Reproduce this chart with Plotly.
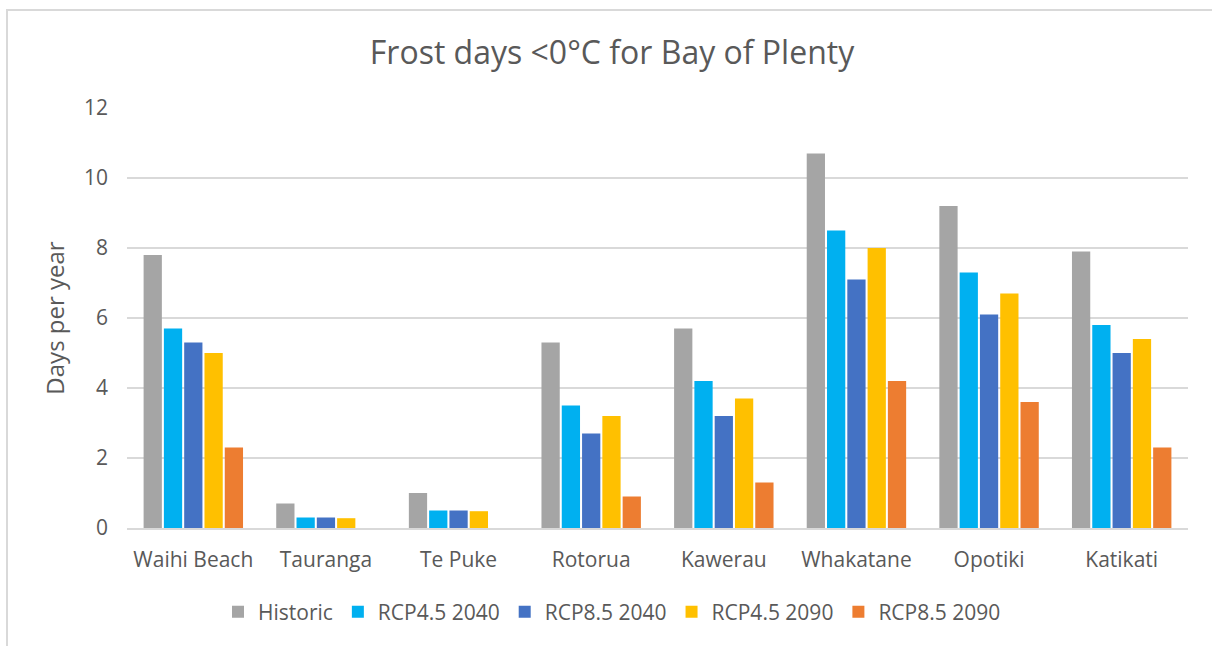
import plotly.graph_objects as go

# Frost days below 0°C per year, Bay of Plenty towns
towns = ["Waihi Beach", "Tauranga", "Te Puke", "Rotorua", "Kawerau",
         "Whakatane", "Opotiki", "Katikati"]

historic = [7.8, 0.7, 1.0, 5.3, 5.7, 10.7, 9.2, 7.9]
rcp45_2040 = [5.7, 0.3, 0.5, 3.5, 4.2, 8.5, 7.3, 5.8]
rcp85_2040 = [5.3, 0.3, 0.5, 2.7, 3.2, 7.1, 6.1, 5.0]
rcp45_2090 = [5.0, 0.28, 0.48, 3.2, 3.7, 8.0, 6.7, 5.4]
rcp85_2090 = [2.3, 0.0, 0.0, 0.9, 1.3, 4.2, 3.6, 2.3]

series_names = ["Historic", "RCP4.5 2040", "RCP8.5 2040", "RCP4.5 2090", "RCP8.5 2090"]
series_values = [historic, rcp45_2040, rcp85_2040, rcp45_2090, rcp85_2090]
series_colors = ["#A5A5A5", "#00B0F0", "#4472C4", "#FFC000", "#ED7D31"]

y_ticks = [0, 2, 4, 6, 8, 10, 12]

FONT = "Open Sans"
TEXT = "#595959"

W, H = 1212, 646
ML, MR, MT, MB = 127, 24, 108, 118
PW, PH = W - ML - MR, H - MT - MB

fig = go.Figure()
for name, vals, col in zip(series_names, series_values, series_colors):
    fig.add_trace(go.Bar(
        x=towns, y=vals, name=name,
        marker=dict(color=col, line=dict(width=0)),
    ))

def px_x(px):
    return (px - ML) / PW

def px_y(py):
    return (H - MB - py) / PH

fig.update_layout(
    width=W, height=H,
    margin=dict(l=ML, r=MR, t=MT, b=MB),
    paper_bgcolor="white", plot_bgcolor="white",
    barmode="group", bargap=0.235, bargroupgap=0.1,
    font=dict(family=FONT, color=TEXT),
    title=dict(
        text="Frost days <0°C for Bay of Plenty",
        font=dict(family=FONT, size=32, color=TEXT),
        x=(612 / W), xanchor="center",
        y=1 - 53 / H, yanchor="middle",
    ),
    xaxis=dict(
        showgrid=False, showline=True, linecolor="#D9D9D9", linewidth=2,
        tickfont=dict(family=FONT, size=21, color=TEXT),
        ticklabelstandoff=12,
        fixedrange=True,
    ),
    yaxis=dict(
        range=[0, 12], tickvals=y_ticks,
        showgrid=True, gridcolor="#D9D9D9", gridwidth=1.5,
        zeroline=False, showline=False,
        tickfont=dict(family=FONT, size=21, color=TEXT),
        ticklabelstandoff=18,
        title=dict(text="Days per year", font=dict(family=FONT, size=24, color=TEXT),
                   standoff=12),
    ),
    legend=dict(
        orientation="h", x=px_x(612), xanchor="center",
        y=px_y(612), yanchor="middle",
        font=dict(family=FONT, size=21, color=TEXT),
        itemwidth=30, traceorder="normal",
    ),
    shapes=[dict(
        type="rect", xref="paper", yref="paper",
        x0=px_x(7), x1=px_x(1230), y0=px_y(680), y1=px_y(10),
        line=dict(color="#D9D9D9", width=2), fillcolor="rgba(0,0,0,0)",
        layer="below",
    )],
)

fig.write_html("out.html")
